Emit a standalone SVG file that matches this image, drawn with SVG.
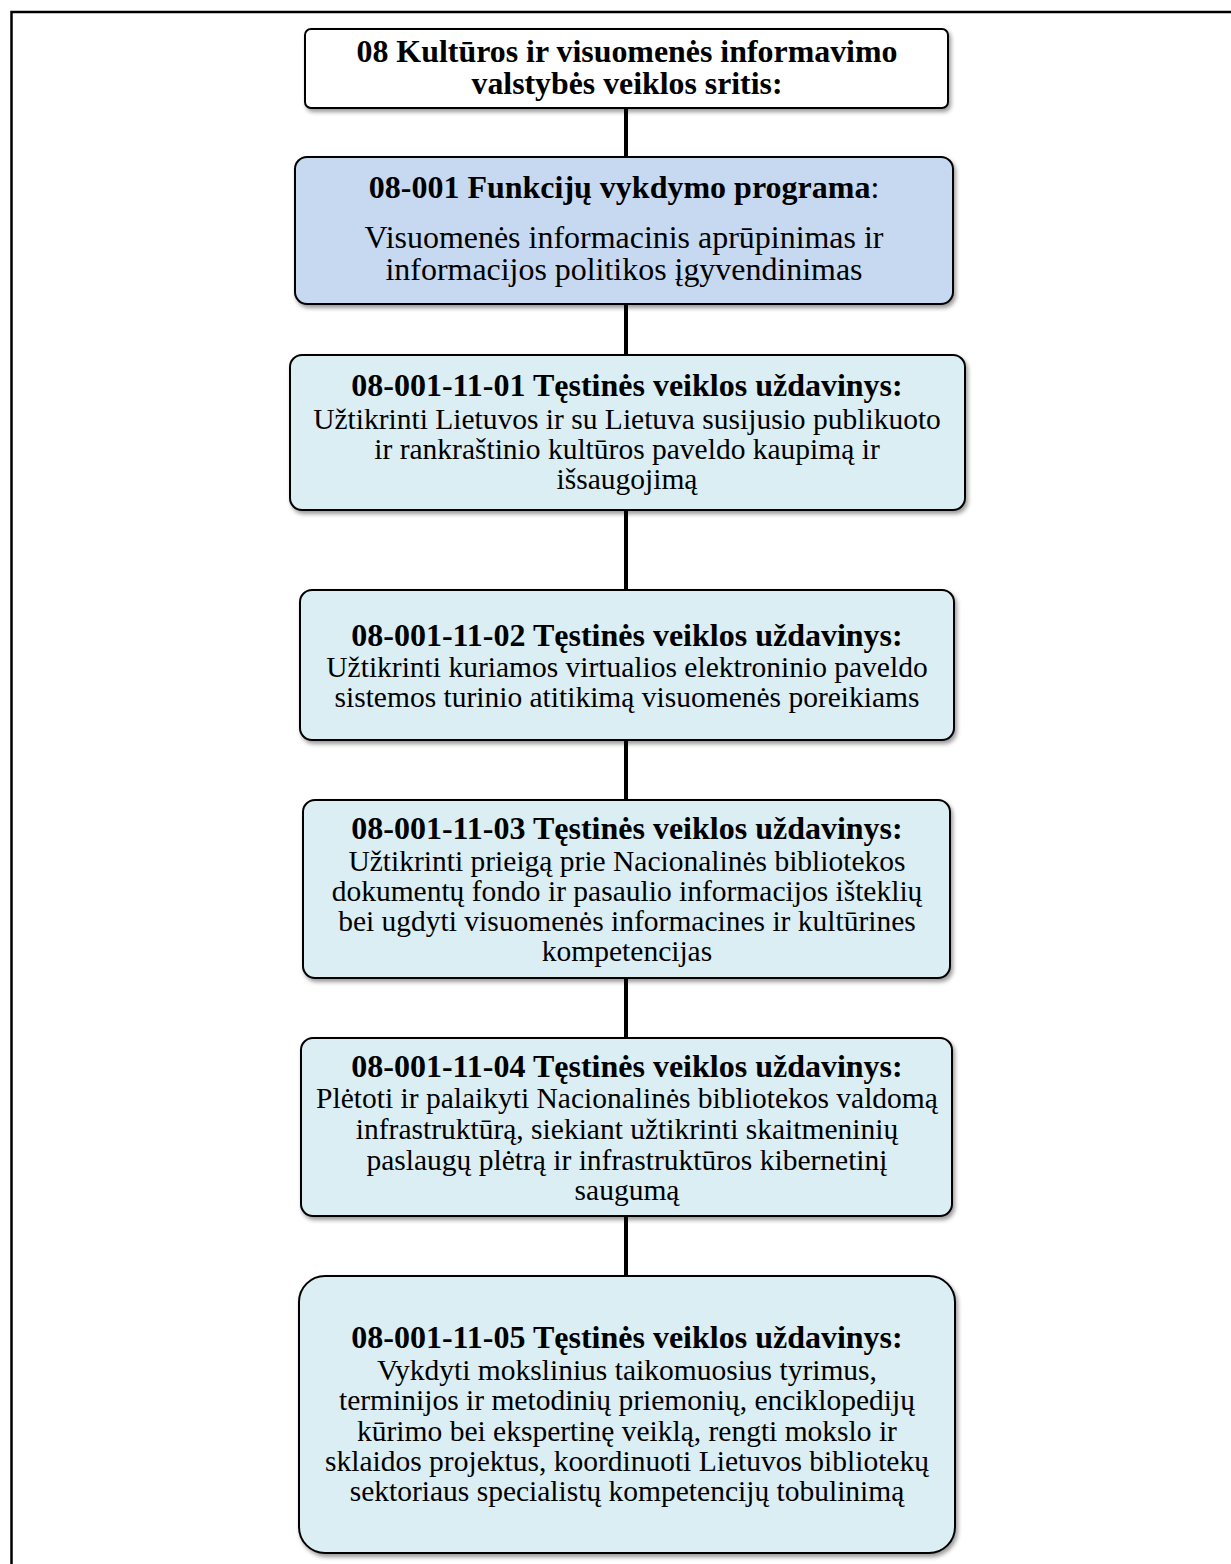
<svg xmlns="http://www.w3.org/2000/svg" width="1231" height="1564" viewBox="0 0 1231 1564">
<style>
.frame{fill:none;stroke:#000;stroke-width:2.5}
.box{stroke:#000;stroke-width:2;filter:url(#sh)}
.w{fill:#fff}
.p{fill:#c6d9f1}
.t{fill:#dbeef4}
text{font-family:"Liberation Serif","Times New Roman",serif;fill:#000;text-anchor:middle}
.b{font-weight:bold;font-size:32px}
.bt{font-weight:bold;font-size:30.5px}
.r{font-size:29.5px}
.rp{font-size:30.5px}
.conn{stroke:#000;stroke-width:4;fill:none}
</style>
<defs>
<filter id="sh" x="-5%" y="-5%" width="110%" height="120%">
<feDropShadow dx="2" dy="3" stdDeviation="2" flood-color="#000" flood-opacity="0.4"/>
</filter>
</defs>
<rect class="frame" x="11.5" y="12" width="1250" height="1600"/>
<g id="connectors">
<line class="conn" x1="626" y1="108" x2="626" y2="1278"/>
</g>
<g id="n0">
<rect class="box w" x="305" y="29" width="643" height="79" rx="6"/>
<text class="bt" x="627" y="62" textLength="541" lengthAdjust="spacingAndGlyphs">08 Kultūros ir visuomenės informavimo</text>
<text class="bt" x="627" y="94" textLength="311" lengthAdjust="spacingAndGlyphs">valstybės veiklos sritis:</text>
</g>
<g id="n1">
<rect class="box p" x="295" y="157" width="658" height="147" rx="12"/>
<text class="b" x="624" y="198">08-001 Funkcijų vykdymo programa<tspan font-weight="normal">:</tspan></text>
<text class="rp" x="624" y="248" textLength="519" lengthAdjust="spacingAndGlyphs">Visuomenės informacinis aprūpinimas ir</text>
<text class="rp" x="624" y="280" textLength="477" lengthAdjust="spacingAndGlyphs">informacijos politikos įgyvendinimas</text>
</g>
<g id="n2">
<rect class="box t" x="290" y="355" width="675" height="155" rx="12"/>
<text class="b" x="627" y="396">08-001-11-01 Tęstinės veiklos uždavinys:</text>
<text class="r" x="627" y="429">Užtikrinti Lietuvos ir su Lietuva susijusio publikuoto</text>
<text class="r" x="627" y="459">ir rankraštinio kultūros paveldo kaupimą ir</text>
<text class="r" x="627" y="489">išsaugojimą</text>
</g>
<g id="n3">
<rect class="box t" x="300" y="590" width="654" height="150" rx="12"/>
<text class="b" x="627" y="646">08-001-11-02 Tęstinės veiklos uždavinys:</text>
<text class="r" x="627" y="677">Užtikrinti kuriamos virtualios elektroninio paveldo</text>
<text class="r" x="627" y="707">sistemos turinio atitikimą visuomenės poreikiams</text>
</g>
<g id="n4">
<rect class="box t" x="303" y="800" width="647" height="178" rx="12"/>
<text class="b" x="627" y="839">08-001-11-03 Tęstinės veiklos uždavinys:</text>
<text class="r" x="627" y="871">Užtikrinti prieigą prie Nacionalinės bibliotekos</text>
<text class="r" x="627" y="901">dokumentų fondo ir pasaulio informacijos išteklių</text>
<text class="r" x="627" y="931">bei ugdyti visuomenės informacines ir kultūrines</text>
<text class="r" x="627" y="961">kompetencijas</text>
</g>
<g id="n5">
<rect class="box t" x="301" y="1038" width="651" height="178" rx="12"/>
<text class="b" x="627" y="1077">08-001-11-04 Tęstinės veiklos uždavinys:</text>
<text class="r" x="627" y="1108">Plėtoti ir palaikyti Nacionalinės bibliotekos valdomą</text>
<text class="r" x="627" y="1139">infrastruktūrą, siekiant užtikrinti skaitmeninių</text>
<text class="r" x="627" y="1170">paslaugų plėtrą ir infrastruktūros kibernetinį</text>
<text class="r" x="627" y="1200">saugumą</text>
</g>
<g id="n6">
<rect class="box t" x="299" y="1276" width="656" height="277" rx="26"/>
<text class="b" x="627" y="1348">08-001-11-05 Tęstinės veiklos uždavinys:</text>
<text class="r" x="627" y="1380">Vykdyti mokslinius taikomuosius tyrimus,</text>
<text class="r" x="627" y="1410">terminijos ir metodinių priemonių, enciklopedijų</text>
<text class="r" x="627" y="1441">kūrimo bei ekspertinę veiklą, rengti mokslo ir</text>
<text class="r" x="627" y="1471">sklaidos projektus, koordinuoti Lietuvos bibliotekų</text>
<text class="r" x="627" y="1501">sektoriaus specialistų kompetencijų tobulinimą</text>
</g>
</svg>
